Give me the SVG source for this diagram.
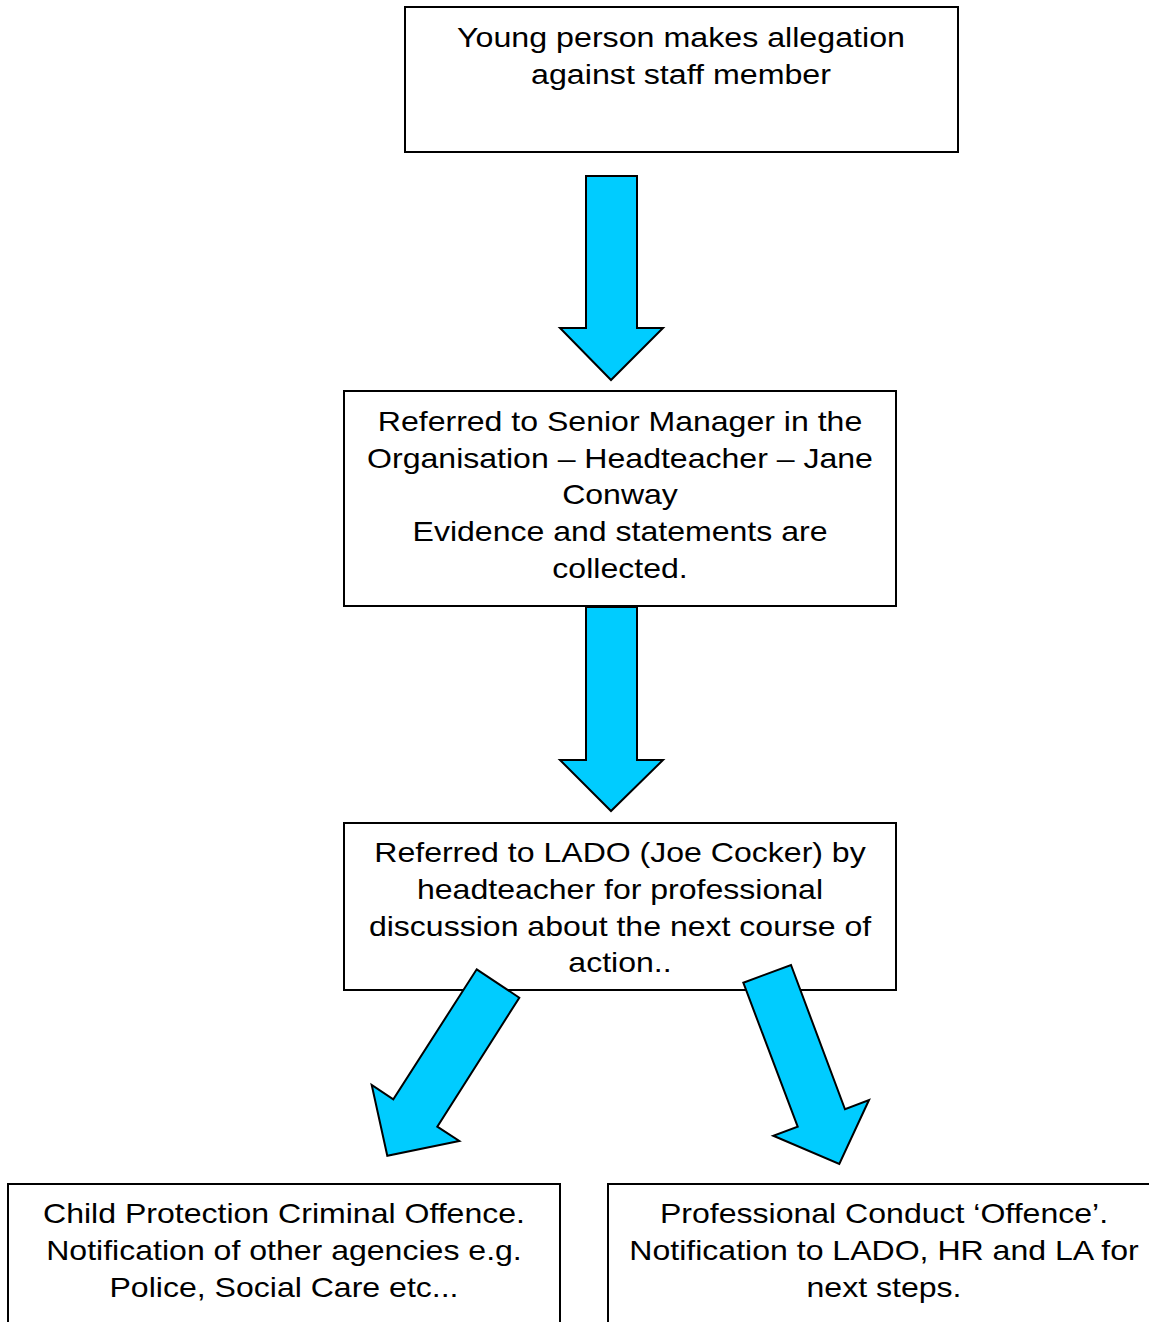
<svg xmlns="http://www.w3.org/2000/svg" width="1149" height="1322" viewBox="0 0 1149 1322">
<style>
.box{fill:#fff;stroke:#000;stroke-width:2}
.t{font-family:"Liberation Sans",Arial,sans-serif;font-size:28px;fill:#000;text-anchor:middle}
.arr{fill:#00ccff;stroke:#000;stroke-width:2;stroke-linejoin:miter}
</style>
<rect width="1149" height="1322" fill="#fff"/>
<g id="n1"><rect class="box" x="405" y="7" width="553" height="145"/>
<g transform="translate(681,0) scale(1.15,1)">
<text class="t" x="0" y="47">Young person makes allegation</text>
<text class="t" x="0" y="84">against staff member</text></g></g>
<g id="n2"><rect class="box" x="344" y="391" width="552" height="215"/>
<g transform="translate(620,0) scale(1.145,1)">
<text class="t" x="0" y="431">Referred to Senior Manager in the</text>
<text class="t" x="0" y="468">Organisation – Headteacher – Jane</text>
<text class="t" x="0" y="504">Conway</text>
<text class="t" x="0" y="541">Evidence and statements are</text>
<text class="t" x="0" y="578">collected.</text></g></g>
<g id="n3"><rect class="box" x="344" y="823" width="552" height="167"/>
<g transform="translate(620,0) scale(1.145,1)">
<text class="t" x="0" y="862">Referred to LADO (Joe Cocker) by</text>
<text class="t" x="0" y="899">headteacher for professional</text>
<text class="t" x="0" y="936">discussion about the next course of</text>
<text class="t" x="0" y="972">action..</text></g></g>
<g id="n4"><rect class="box" x="8" y="1184" width="552" height="160"/>
<g transform="translate(284,0) scale(1.145,1)">
<text class="t" x="0" y="1223">Child Protection Criminal Offence.</text>
<text class="t" x="0" y="1260">Notification of other agencies e.g.</text>
<text class="t" x="0" y="1297">Police, Social Care etc...</text></g></g>
<g id="n5"><rect class="box" x="608" y="1184" width="560" height="160"/>
<g transform="translate(884,0) scale(1.145,1)">
<text class="t" x="0" y="1223">Professional Conduct ‘Offence’.</text>
<text class="t" x="0" y="1260">Notification to LADO, HR and LA for</text>
<text class="t" x="0" y="1297">next steps.</text></g></g>
<g id="connectors">
<polygon class="arr" points="586,176 637,176 637,328 663,328 611,380 560,328 586,328"/>
<polygon class="arr" points="586,607 637,607 637,760 663,760 611,811 560,760 586,760"/>
<polygon class="arr" points="476.7,969.3 519.3,997.7 437.3,1126.7 459.3,1141 387.3,1155.7 371.7,1085 393.3,1099.3"/>
<polygon class="arr" points="743.3,982.7 791,965 845,1109.3 869,1100 839.3,1164 773.3,1135.7 797.7,1126.7"/>
</g>
</svg>
